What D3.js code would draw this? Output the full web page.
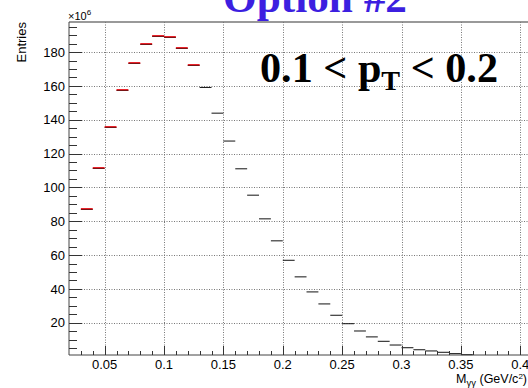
<!DOCTYPE html>
<html>
<head>
<meta charset="utf-8">
<script src="https://cdn.jsdelivr.net/npm/d3@7"></script>
<style>
  body { margin: 0; background: #fff; }
  text { font-family: "Liberation Sans", Arial, sans-serif; }
</style>
</head>
<body>
<svg id="chart"></svg>
<script>
const chartWidth = 528;
const chartHeight = 388;

// bin low edges (GeV/c^2), width 0.01
const binEdges = [0.03, 0.04, 0.05, 0.06, 0.07, 0.08, 0.09, 0.10, 0.11, 0.12,
  0.13, 0.14, 0.15, 0.16, 0.17, 0.18, 0.19, 0.20, 0.21, 0.22, 0.23, 0.24,
  0.25, 0.26, 0.27, 0.28, 0.29, 0.30, 0.31, 0.32, 0.33, 0.34, 0.35];
// entries in units of 10^6
const entries = [87, 111.7, 135.9, 157.3, 173.7, 184.5, 189.8, 188.7, 182.7, 172.5,
  159.1, 143.9, 127.4, 111, 95.4, 81.4, 68.4, 56.9, 47.1, 38.2, 31.1, 24.4,
  19.4, 15.1, 11.6, 9, 6.8, 5.2, 4, 3.3, 2.5, 1.7, 1.1];
// bins highlighted in red
const redRange = [0.03, 0.13];
const binWidth = 0.01;

const xTicks = [0.05, 0.1, 0.15, 0.2, 0.25, 0.3, 0.35, 0.4];
const xTickLabels = ["0.05", "0.1", "0.15", "0.2", "0.25", "0.3", "0.35", "0.4"];
const yTicks = [20, 40, 60, 80, 100, 120, 140, 160, 180];

const padLeft = 69, padRight = 520.3, padTop = 22, padBottom = 355;

const x = d3.scaleLinear().domain([0.02, 0.4]).range([padLeft, padRight]);
const y = d3.scaleLinear().domain([0.9, 197.8]).range([padBottom, padTop]);

const svg = d3.select("#chart")
  .attr("width", chartWidth)
  .attr("height", chartHeight);

const bins = binEdges.map((lo, i) => ({
  lo: lo,
  hi: lo + binWidth,
  v: entries[i],
  red: lo >= redRange[0] - 1e-9 && lo < redRange[1] - 1e-9
}));

// grid
svg.append("g")
  .selectAll("line")
  .data(xTicks)
  .enter()
  .append("line")
  .attr("x1", d => Math.round(x(d)) + 0.5)
  .attr("x2", d => Math.round(x(d)) + 0.5)
  .attr("y1", padTop)
  .attr("y2", padBottom)
  .attr("stroke", "#777")
  .attr("stroke-dasharray", "1,1.5");

svg.append("g")
  .selectAll("line")
  .data(yTicks)
  .enter()
  .append("line")
  .attr("x1", padLeft)
  .attr("x2", chartWidth)
  .attr("y1", d => Math.round(y(d)) + 0.5)
  .attr("y2", d => Math.round(y(d)) + 0.5)
  .attr("stroke", "#777")
  .attr("stroke-dasharray", "1,1.5");

// top frame line
svg.append("line")
  .attr("x1", padLeft).attr("x2", chartWidth)
  .attr("y1", padTop).attr("y2", padTop)
  .attr("stroke", "#777")
  .attr("stroke-width", 1.5);

// red histogram underneath
svg.append("g")
  .selectAll("line")
  .data(bins.filter(d => d.red))
  .enter()
  .append("line")
  .attr("x1", d => x(d.lo))
  .attr("x2", d => x(d.hi))
  .attr("y1", d => Math.round(y(d.v)))
  .attr("y2", d => Math.round(y(d.v)))
  .attr("stroke", "#e8222a")
  .attr("stroke-width", 2);

// black histogram
svg.append("g")
  .selectAll("line")
  .data(bins)
  .enter()
  .append("line")
  .attr("x1", d => x(d.lo))
  .attr("x2", d => x(d.hi))
  .attr("y1", d => d.red ? Math.round(y(d.v)) + 0.5 : y(d.v))
  .attr("y2", d => d.red ? Math.round(y(d.v)) + 0.5 : y(d.v))
  .attr("stroke", d => d.red ? "#5a1010" : "#111")
  .attr("stroke-width", d => d.red ? 0.8 : 1);

// y axis
const yAxis = svg.append("g");
yAxis.append("line")
  .attr("x1", padLeft).attr("x2", padLeft)
  .attr("y1", padTop).attr("y2", padBottom)
  .attr("stroke", "#444");

yAxis.selectAll("line.minor")
  .data(d3.range(5, 198, 5).filter(v => v % 20 !== 0))
  .enter()
  .append("line")
  .attr("class", "minor")
  .attr("x1", padLeft).attr("x2", padLeft + 8)
  .attr("y1", d => Math.round(y(d)) + 0.5)
  .attr("y2", d => Math.round(y(d)) + 0.5)
  .attr("stroke", "#333");

yAxis.selectAll("line.major")
  .data(yTicks)
  .enter()
  .append("line")
  .attr("class", "major")
  .attr("x1", padLeft).attr("x2", padLeft + 13)
  .attr("y1", d => Math.round(y(d)) + 0.5)
  .attr("y2", d => Math.round(y(d)) + 0.5)
  .attr("stroke", "#333");

yAxis.selectAll("text")
  .data(yTicks)
  .enter()
  .append("text")
  .attr("x", padLeft - 4)
  .attr("y", d => y(d) + 4.7)
  .attr("text-anchor", "end")
  .style("font-size", "13px")
  .text(d => d);

// x axis
const xAxis = svg.append("g");
xAxis.append("line")
  .attr("x1", padLeft).attr("x2", chartWidth)
  .attr("y1", padBottom).attr("y2", padBottom)
  .attr("stroke", "#444");

xAxis.selectAll("line.minor")
  .data(d3.range(3, 40).map(i => i / 100).filter(v => Math.round(v * 100) % 5 !== 0))
  .enter()
  .append("line")
  .attr("class", "minor")
  .attr("x1", d => Math.round(x(d)) + 0.5)
  .attr("x2", d => Math.round(x(d)) + 0.5)
  .attr("y1", padBottom).attr("y2", padBottom - 4)
  .attr("stroke", "#333");

xAxis.selectAll("line.major")
  .data(xTicks)
  .enter()
  .append("line")
  .attr("class", "major")
  .attr("x1", d => Math.round(x(d)) + 0.5)
  .attr("x2", d => Math.round(x(d)) + 0.5)
  .attr("y1", padBottom).attr("y2", padBottom - 9)
  .attr("stroke", "#333");

xAxis.selectAll("text")
  .data(xTicks)
  .enter()
  .append("text")
  .attr("x", d => x(d))
  .attr("y", 369)
  .attr("text-anchor", "middle")
  .style("font-size", "13px")
  .text((d, i) => xTickLabels[i]);

// axis titles
const xTitle = svg.append("text")
  .attr("x", 527)
  .attr("y", 383)
  .attr("text-anchor", "end")
  .style("font-size", "12.5px");
xTitle.append("tspan").text("M");
xTitle.append("tspan").attr("dy", 3).style("font-size", "9.5px").text("γγ");
xTitle.append("tspan").attr("dy", -3).text(" (GeV/c");
xTitle.append("tspan").attr("dy", -4).style("font-size", "8px").text("2");
xTitle.append("tspan").attr("dy", 4).text(")");

svg.append("text")
  .attr("transform", "translate(25.5, 22) rotate(-90)")
  .attr("text-anchor", "end")
  .style("font-size", "13px")
  .text("Entries");

const expo = svg.append("text")
  .attr("x", 68)
  .attr("y", 20)
  .style("font-size", "11px");
expo.append("tspan").text("×10");
expo.append("tspan").attr("dy", -5).style("font-size", "8px").text("6");

// title (clipped by the top edge)
svg.append("text")
  .attr("x", 315)
  .attr("y", 12)
  .attr("text-anchor", "middle")
  .attr("textLength", 184)
  .attr("lengthAdjust", "spacingAndGlyphs")
  .style("font-family", "'Liberation Serif', 'Times New Roman', serif")
  .style("font-weight", "bold")
  .style("font-size", "42px")
  .style("fill", "#3c1fe0")
  .text("Option #2");

// pT range label
const ptLabel = svg.append("text")
  .attr("x", 260)
  .attr("y", 82)
  .attr("textLength", 238)
  .attr("lengthAdjust", "spacingAndGlyphs")
  .style("font-family", "'Liberation Serif', 'Times New Roman', serif")
  .style("font-weight", "bold")
  .style("font-size", "42px")
  .style("fill", "#000");
ptLabel.append("tspan").text("0.1 < p");
ptLabel.append("tspan").attr("dy", 8).style("font-size", "28px").text("T");
ptLabel.append("tspan").attr("dy", -8).text(" < 0.2");
</script>
</body>
</html>
